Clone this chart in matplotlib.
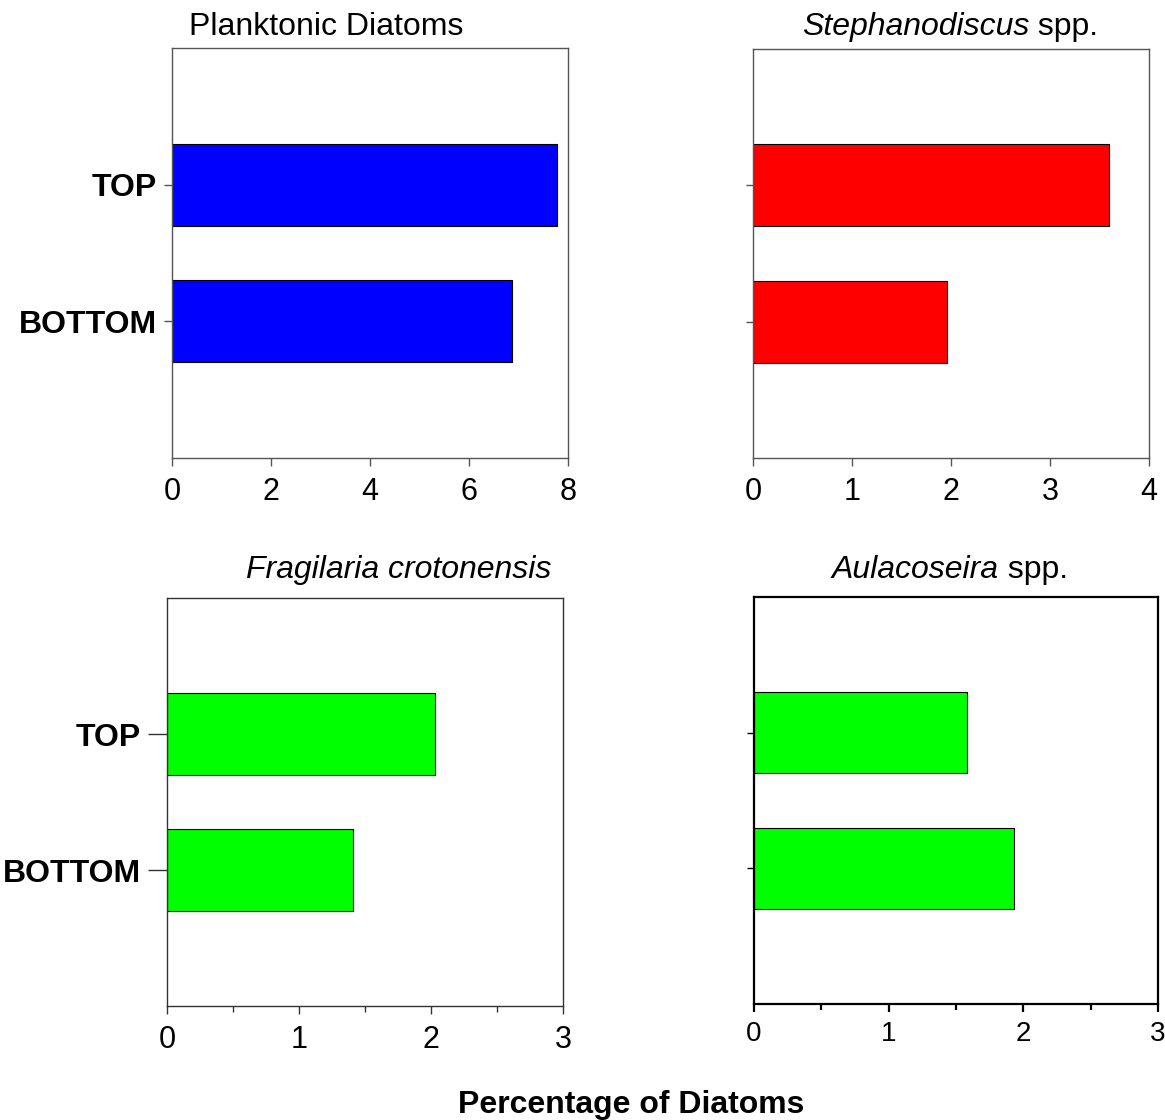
import matplotlib
matplotlib.use('Agg')
import matplotlib.pyplot as plt
from matplotlib.ticker import MultipleLocator

plt.rcParams['font.family'] = ['Liberation Sans', 'DejaVu Sans']

categories = ['BOTTOM', 'TOP']
planktonic = [6.87, 7.78]
stephanodiscus = [1.96, 3.60]
fragilaria = [1.41, 2.03]
aulacoseira = [1.93, 1.58]

W, H = 1165, 1120
fig = plt.figure(figsize=(W / 100, H / 100), dpi=100)

def box(x0, y0, x1, y1):
	# pixel box -> figure fraction
	return [x0 / W, 1 - y1 / H, (x1 - x0) / W, (y1 - y0) / H]

panels = [
	# values, color, xmax, xstep, minor, box, show labels, ytick len, frame, tick font, pad
	(planktonic, '#0000ff', 8, 2, None, box(172, 48, 568, 458), True, 6, ('#555555', 1.0), 22, 8),
	(stephanodiscus, '#ff0000', 4, 1, None, box(753, 49, 1149, 458), False, 5, ('#555555', 1.0), 22, 8),
	(fragilaria, '#00ff00', 3, 1, 0.5, box(167, 598, 563, 1006), True, 14, ('#333333', 1.0), 22, 8),
	(aulacoseira, '#00ff00', 3, 1, 0.5, box(754, 597, 1158, 1004), False, 5, ('black', 1.6), 20, 6),
]

for vals, col, xmax, step, minor, pos, showlab, ylen, frame, tfs, xpad in panels:
	ax = fig.add_axes(pos)
	ax.barh(range(len(categories)), vals, height=0.6, color=col, edgecolor='black', linewidth=0.8)
	ax.set_xlim(0, xmax)
	ax.set_ylim(-1, 2)
	ax.xaxis.set_major_locator(MultipleLocator(step))
	if minor:
		ax.xaxis.set_minor_locator(MultipleLocator(minor))
		ax.tick_params(axis='x', which='minor', direction='out', length=4, width=frame[1], color=frame[0])
	ax.set_yticks(range(len(categories)))
	if showlab:
		ax.set_yticklabels(categories, fontsize=23, fontweight='bold')
	else:
		ax.set_yticklabels([])
	ax.tick_params(axis='y', direction='out', length=ylen, width=1, color=frame[0], pad=5)
	ax.tick_params(axis='x', which='major', direction='out', length=6, width=frame[1], color=frame[0],
				   labelsize=tfs, pad=xpad)
	for s in ax.spines.values():
		s.set_color(frame[0])
		s.set_linewidth(frame[1])

def title(x, y, parts):
	# parts: list of (text, style), drawn left to right, centred on x
	r = fig.canvas.get_renderer()
	ts = []
	for t, st in parts:
		ts.append(fig.text(0, 1 - y / H, t, fontsize=23, style=st, va='baseline', ha='left'))
	widths = [t.get_window_extent(renderer=r).width for t in ts]
	x0 = x - sum(widths) / 2
	for t, w in zip(ts, widths):
		t.set_x(x0 / W)
		x0 += w

title(326, 35, [('Planktonic Diatoms', 'normal')])
title(950, 35, [('Stephanodiscus', 'italic'), (' spp.', 'normal')])
title(399, 578, [('Fragilaria crotonensis', 'italic')])
title(950, 578, [('Aulacoseira', 'italic'), (' spp.', 'normal')])

fig.text(631 / W, 1 - 1113 / H, 'Percentage of Diatoms', fontsize=23, fontweight='bold',
		 ha='center', va='baseline')

fig.savefig('out.png', dpi=100)
